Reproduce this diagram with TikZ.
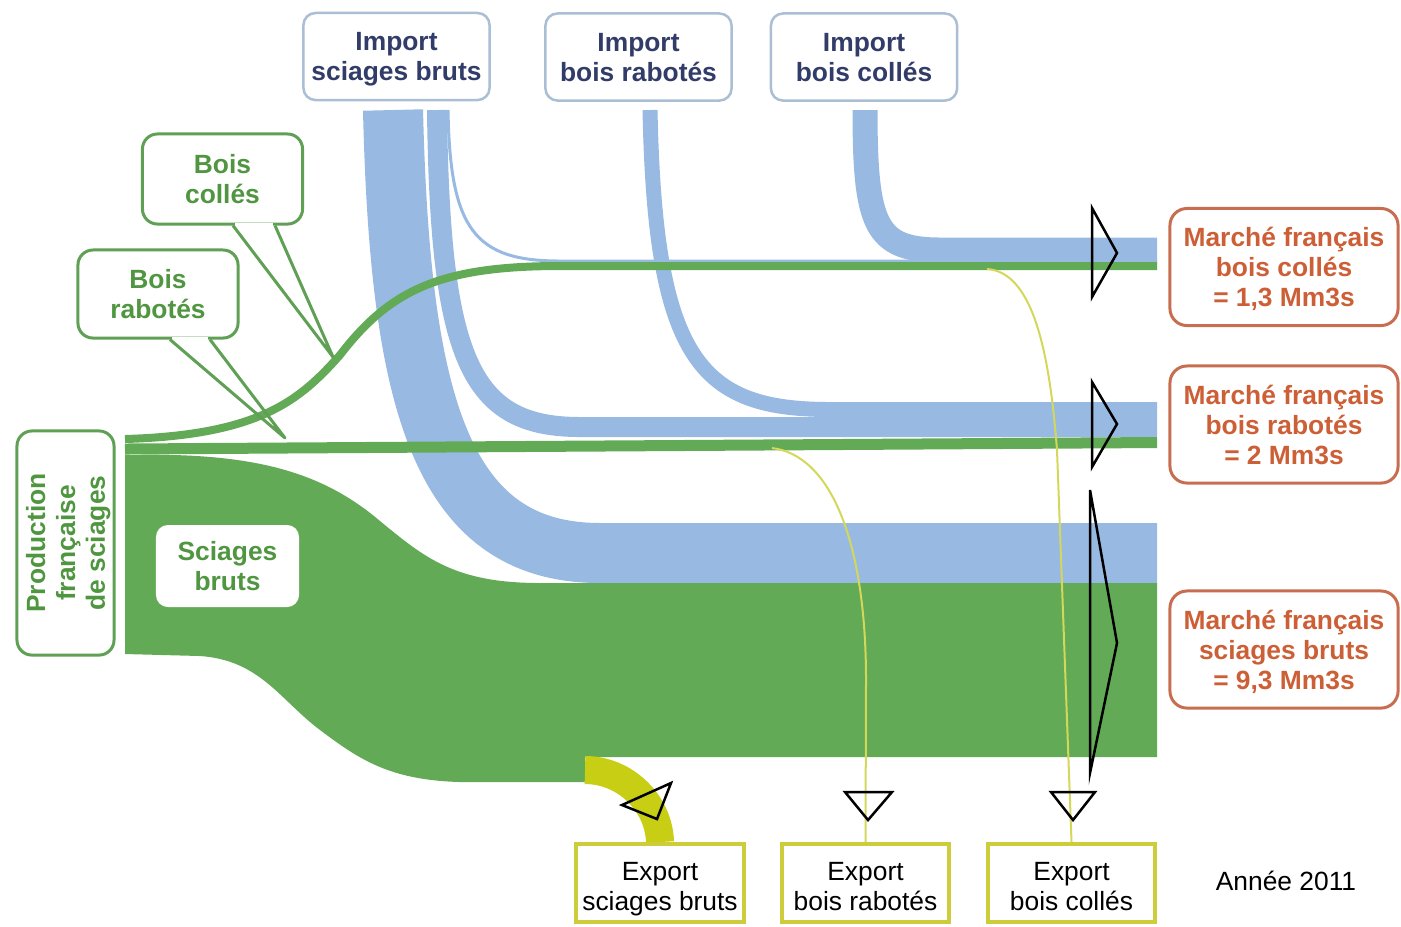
\documentclass[tikz,border=0pt]{standalone}
\usepackage{fontspec}
\setmainfont{Liberation Sans}
\usetikzlibrary{backgrounds,calc}

\definecolor{flowblue}{RGB}{152,186,226}
\definecolor{flowgreen}{RGB}{99,170,86}
\definecolor{linegreen}{RGB}{95,160,85}
\definecolor{textgreen}{RGB}{80,150,65}
\definecolor{importline}{RGB}{170,190,212}
\definecolor{importtext}{RGB}{50,60,105}
\definecolor{marcheline}{RGB}{200,110,80}
\definecolor{marchetext}{RGB}{205,95,55}
\definecolor{exportline}{RGB}{205,205,60}
\definecolor{flowyellow}{RGB}{200,206,20}
\definecolor{thinyellow}{RGB}{212,216,90}

\tikzset{
  lbl/.style={font=\fontsize{7.5}{8.5}\selectfont\bfseries, align=center, inner sep=0pt, text depth=0pt},
  importbox/.style={lbl, draw=importline, line width=0.025cm, rounded corners=0.12cm, text=importtext, fill=white, minimum width=1.86cm, minimum height=0.87cm},
  callbox/.style={lbl, draw=linegreen, line width=0.03cm, rounded corners=0.15cm, text=textgreen, fill=white, minimum width=1.6cm, minimum height=0.9cm},
  marchebox/.style={lbl, draw=marcheline, line width=0.03cm, rounded corners=0.17cm, text=marchetext, fill=white, minimum width=2.28cm, minimum height=1.17cm},
  exportbox/.style={lbl, font=\fontsize{7.5}{8.5}\selectfont, text height=15.5pt, draw=exportline, line width=0.04cm, fill=white, minimum width=1.67cm, minimum height=0.78cm},
  blueflow/.style={flowblue, line cap=butt},
  greenflow/.style={flowgreen, line cap=butt},
  thinexport/.style={thinyellow, line width=0.02cm},
  opentip/.style={black, line width=0.025cm, line join=miter},
  calloutline/.style={linegreen, line width=0.03cm, line join=round}
}

\begin{document}
\begin{tikzpicture}[x=0.01cm, y=-0.01cm]
\useasboundingbox (0,0) rectangle (1401,926);

\node[importbox] (impbruts) at (396.5,56.5) {Import\\sciages bruts};
\node[importbox] (imprab) at (638.5,57) {Import\\bois rabotés};
\node[importbox] (impcolles) at (864,57) {Import\\bois collés};

\node[callbox] (bcolles) at (222.5,179) {Bois\\collés};
\node[callbox, minimum height=0.88cm] (brab) at (158,294) {Bois\\rabotés};

\node[lbl, draw=linegreen, line width=0.03cm, rounded corners=0.15cm, text=textgreen, minimum width=2.24cm, minimum height=0.97cm, rotate=90] (prod) at (65.5,543) {Production\\française\\de sciages};
\node[lbl, fill=white, rounded corners=0.12cm, text=textgreen, minimum width=1.43cm, minimum height=0.82cm] (sbruts) at (227.5,566) {Sciages\\bruts};

\node[marchebox] (mcolles) at (1284,267) {Marché français\\bois collés\\= 1,3 Mm3s};
\node[marchebox] (mrab) at (1284,424.5) {Marché français\\bois rabotés\\= 2 Mm3s};
\node[marchebox] (mbruts) at (1284,649.5) {Marché français\\sciages bruts\\= 9,3 Mm3s};

\node[exportbox] (exbruts) at (660,883) {Export\\sciages bruts};
\node[exportbox] (exrab) at (865.5,883) {Export\\bois rabotés};
\node[exportbox] (excolles) at (1071.5,883) {Export\\bois collés};
\node[lbl, font=\fontsize{7.5}{8.5}\selectfont] (annee) at (1286,881) {Année 2011};

\begin{pgfonlayer}{background}
\draw[blueflow, line width=0.6cm] (393,110) .. controls (400,400) and (440,553) .. (600,553) -- (1157,553);
\draw[blueflow, line width=0.2cm] (437,110) .. controls (440,360) and (470,427) .. (580,427) -- (1157,427);
\draw[blueflow, line width=0.03cm] (448,110) .. controls (450,230) and (475,261) .. (560,261) -- (1157,261);
\draw[blueflow, line width=0.15cm] (650,110) .. controls (655,360) and (700,409.5) .. (830,409.5) -- (1157,409.5);
\draw[blueflow, line width=0.25cm] (865,110) .. controls (865,225) and (875,250) .. (940,250) -- (1157,250);

\fill[flowgreen] (125,455) .. controls (250,452) and (320,470) .. (380,521) .. controls (425,558) and (455,583) .. (540,583) -- (1157,583) -- (1157,757) -- (585,757) -- (585,782) -- (460,782) .. controls (390,780) and (360,760) .. (320,730) .. controls (280,700) and (260,660) .. (200,656) -- (125,654) -- cycle;
\draw[greenflow, line width=0.08cm] (125,439) .. controls (260,435) and (300,400) .. (340,355) .. controls (390,290) and (440,266) .. (560,266) -- (1157,266);
\draw[greenflow, line width=0.11cm] (125,449) -- (1157,442.5);

\draw[flowyellow, line width=0.28cm] (585,770) .. controls (626,770) and (659,804) .. (exbruts.north);
\draw[thinexport] (772,448) .. controls (830,455) and (866,540) .. (866,680) -- (exrab.north);
\draw[thinexport] (987,269) .. controls (1035,272) and (1050,360) .. (1057,450) -- (excolles.north);
\end{pgfonlayer}

\coordinate (tipcolles) at (333,357);
\coordinate (tiprab) at (285,438);
\draw[white, line width=0.045cm] ($(bcolles.south)+(12.5,0)$) -- ($(bcolles.south)+(50.5,0)$);
\draw[calloutline] ($(bcolles.south)+(10.5,0)$) -- (tipcolles) -- ($(bcolles.south)+(52.5,0)$);
\draw[white, line width=0.045cm] ($(brab.south)+(14,0)$) -- ($(brab.south)+(50,0)$);
\draw[calloutline] ($(brab.south)+(12,0)$) -- (tiprab) -- ($(brab.south)+(52,0)$);

\draw[opentip] (1092,208) -- (1117,253) -- (1092,297) -- cycle;
\draw[opentip] (1092,382) -- (1117,424) -- (1092,467) -- cycle;
\draw[opentip] (1090,490) -- (1117,643) -- (1090,773) -- cycle;
\draw[opentip] (671,783) -- (622,805) -- (657,819) -- cycle;
\draw[opentip] (845,792) -- (892,792) -- (868,820) -- cycle;
\draw[opentip] (1051,792) -- (1095,792) -- (1073,820) -- cycle;
\end{tikzpicture}
\end{document}
